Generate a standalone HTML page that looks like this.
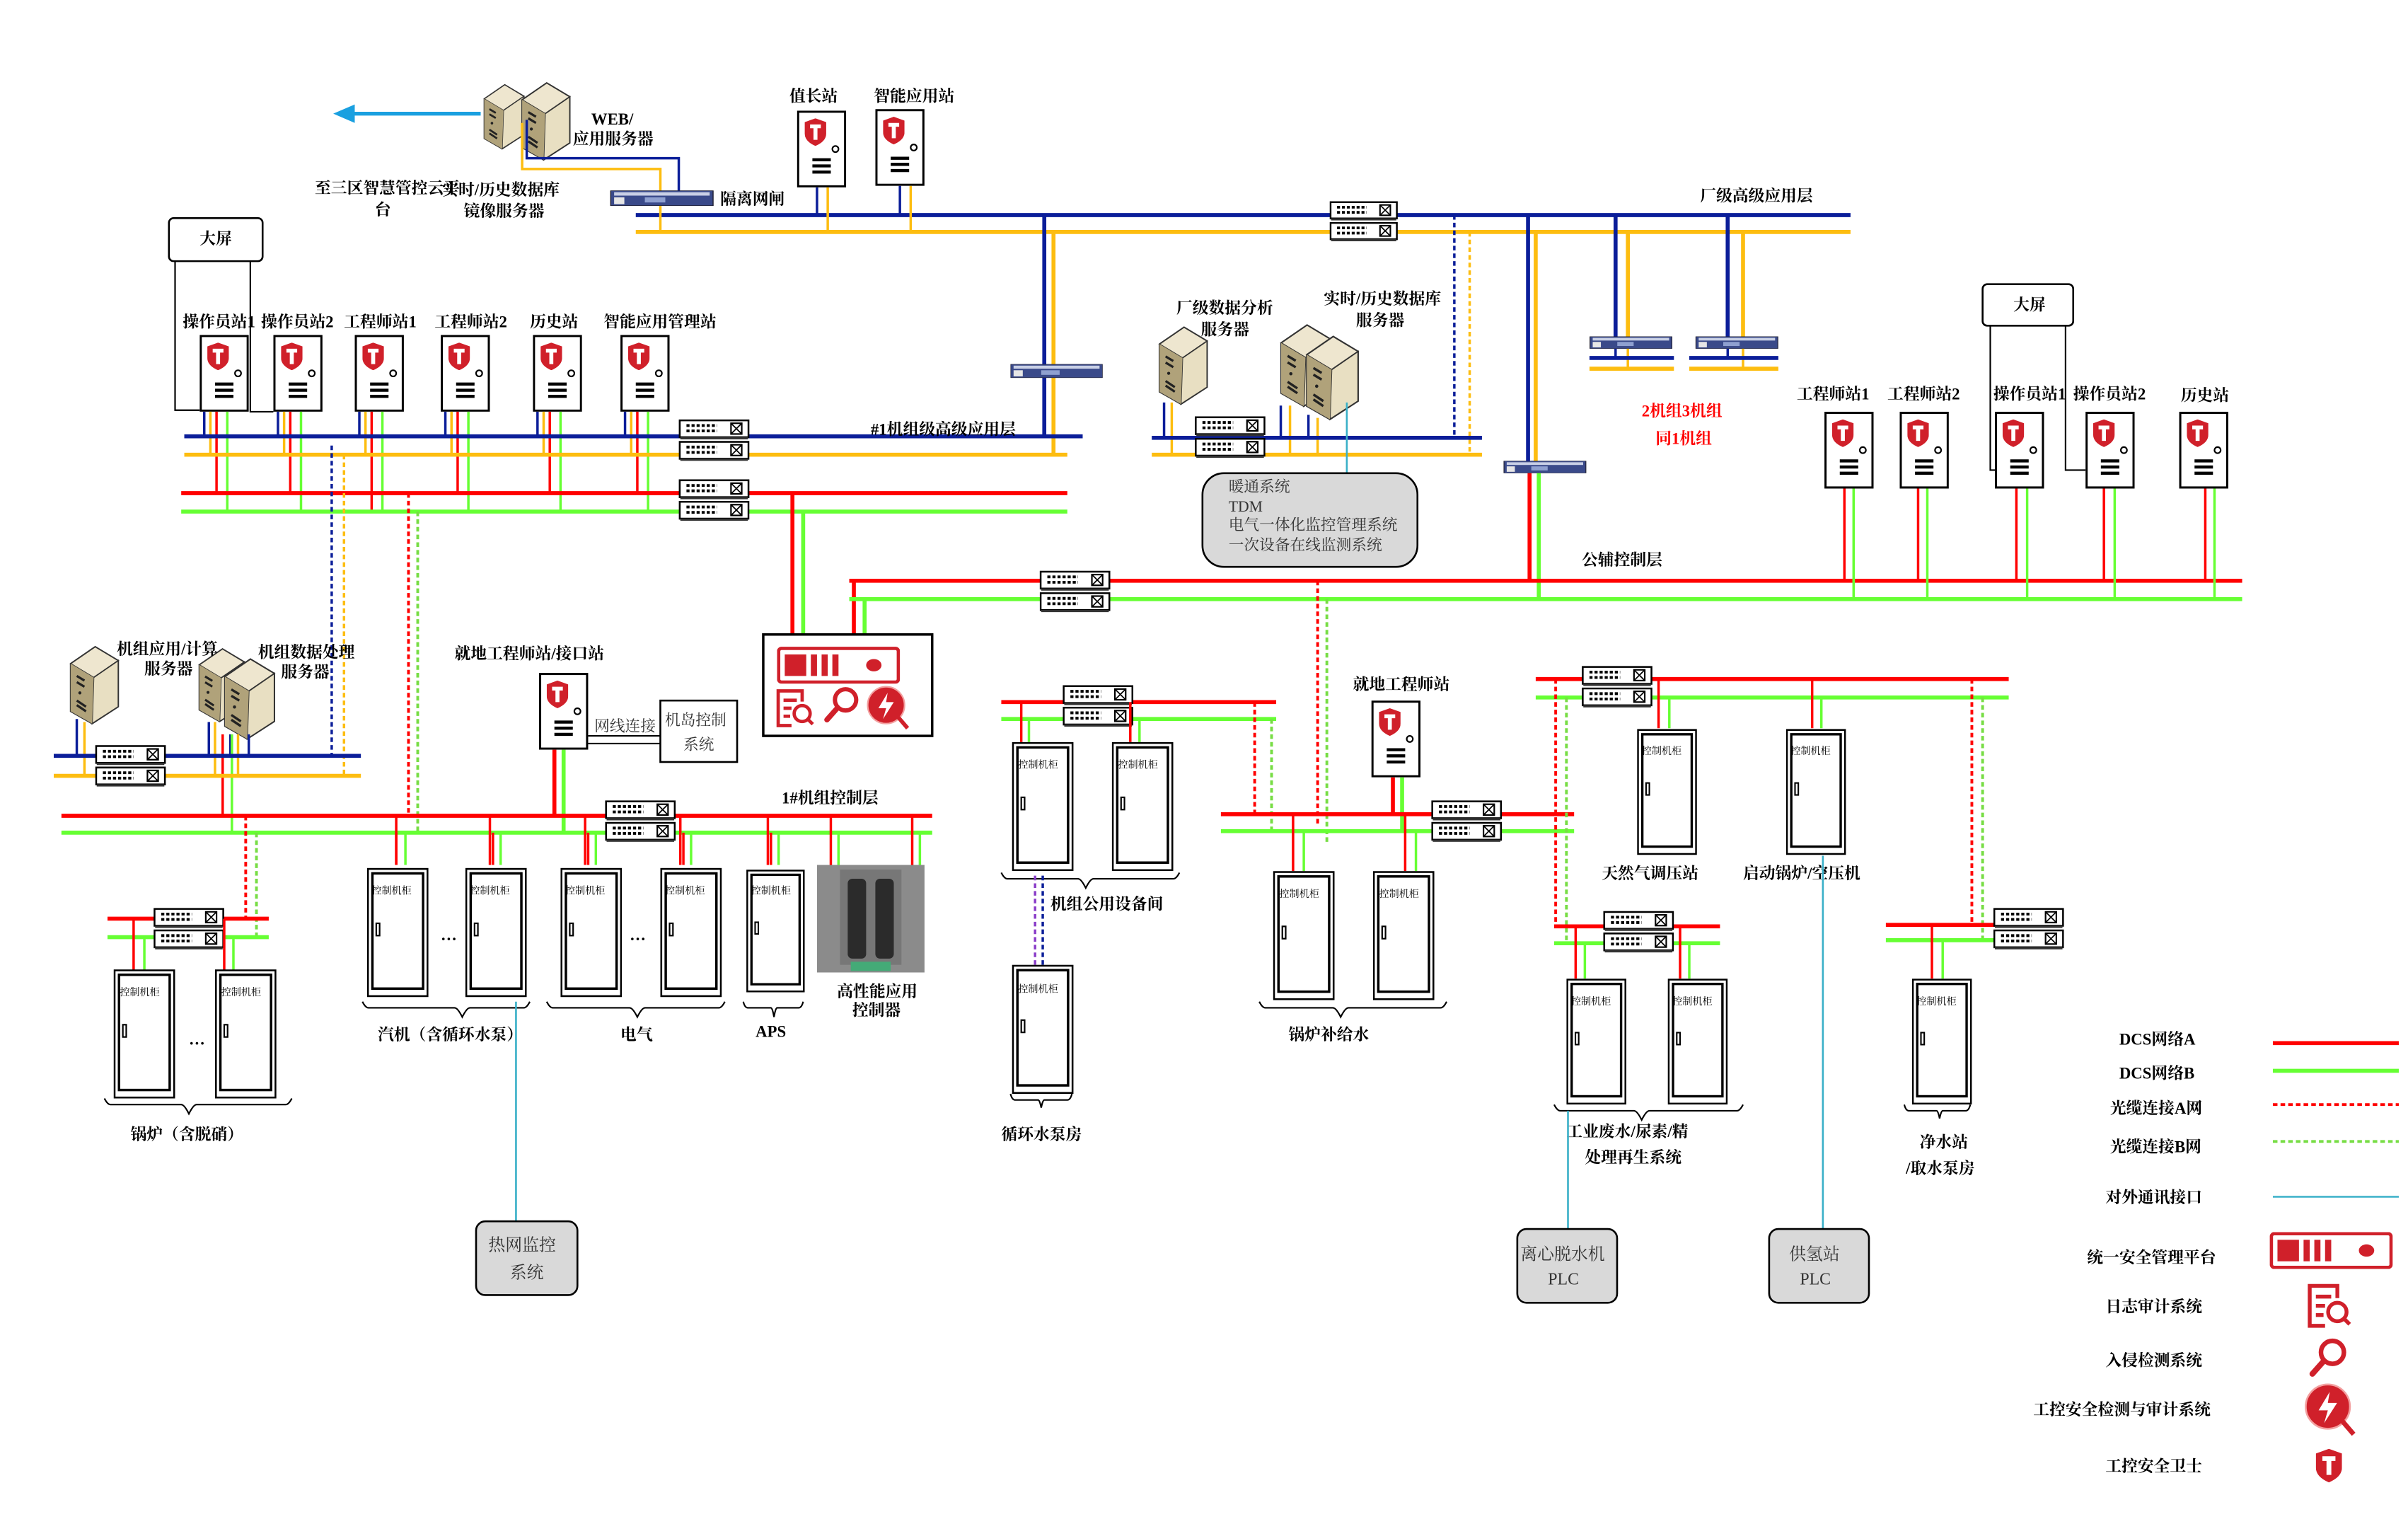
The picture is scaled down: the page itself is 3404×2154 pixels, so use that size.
<!DOCTYPE html>
<html><head><meta charset="utf-8"><style>
html,body{margin:0;padding:0;background:#fff;}
svg{display:block;}
text{font-family:"Liberation Serif","Noto Serif CJK SC",serif;fill:#000;}
.t{font-size:10.5px;font-weight:bold;}
.s{font-size:10px;}
.c{font-size:6.5px;}
.g{font-size:10px;fill:#333;}
.R{stroke:#f00;stroke-width:2.6;fill:none}
.G{stroke:#6f3;stroke-width:2.6;fill:none}
.B{stroke:#0b1e99;stroke-width:2.6;fill:none}
.Y{stroke:#fdbd10;stroke-width:2.6;fill:none}
.r{stroke:#f00;stroke-width:1.6;fill:none}
.gg{stroke:#6f3;stroke-width:1.6;fill:none}
.b{stroke:#0b1e99;stroke-width:1.6;fill:none}
.y{stroke:#fdbd10;stroke-width:1.6;fill:none}
.rd{stroke:#f00;stroke-width:1.8;stroke-dasharray:3 2;fill:none}
.gd{stroke:#7d4;stroke-width:1.8;stroke-dasharray:3 2;fill:none}
.bd{stroke:#0b1e99;stroke-width:1.6;stroke-dasharray:3 2;fill:none}
.yd{stroke:#fdbd10;stroke-width:1.6;stroke-dasharray:3 2;fill:none}
.cy{stroke:#3ab0c8;stroke-width:1.2;fill:none}
.k{stroke:#000;stroke-width:1;fill:none}
</style></head><body>
<svg width="3404" height="2154" viewBox="0 0 1568 992" preserveAspectRatio="none" xmlns="http://www.w3.org/2000/svg">
<defs>
<symbol id="shield" viewBox="0 0 14 18">
<path d="M7 0 L14 2.5 L14 10 Q14 15 7 18 Q0 15 0 10 L0 2.5 Z" fill="#d0202a"/>
<path d="M3.5 4 H10.5 V6.5 H8.3 V14 H5.7 V6.5 H3.5 Z" fill="#fff"/>
</symbol>
<symbol id="st" viewBox="0 0 32 50">
<rect x="0.7" y="0.7" width="30.6" height="48.6" fill="#fff" stroke="#000" stroke-width="1.4"/>
<use href="#shield" x="5" y="5" width="14" height="18"/>
<circle cx="25" cy="25" r="2" fill="none" stroke="#000" stroke-width="1"/>
<path d="M10 32H22M10 36H22M10 40H22" stroke="#000" stroke-width="2"/>
</symbol>
<symbol id="sw1" viewBox="0 0 46 13">
<rect x="0.6" y="0.6" width="44.8" height="11" fill="#fff" stroke="#000" stroke-width="1.2"/>
<rect x="1" y="11.5" width="44" height="1.5" fill="#333"/>
<path d="M5 4h20M5 7.5h20" stroke="#000" stroke-width="1.8" stroke-dasharray="2 1.3"/>
<rect x="34" y="2.5" width="7" height="7" fill="none" stroke="#000" stroke-width="1"/>
<path d="M34 2.5l7 7M41 2.5l-7 7" stroke="#000" stroke-width="0.8"/>
</symbol>
<symbol id="sw" viewBox="0 0 46 28">
<use href="#sw1" x="0" y="0" width="46" height="13"/>
<use href="#sw1" x="0" y="14" width="46" height="13"/>
</symbol>
<symbol id="srv" viewBox="0 0 36 52">
<path d="M4 12 L20 1 L35 10 L35 40 L18 51 L4 43 Z" fill="#cbbf9c" stroke="#333" stroke-width="1"/>
<path d="M4 12 L20 1 L35 10 L19 21 Z" fill="#eee6cf" stroke="#333" stroke-width="0.8"/>
<path d="M19 21 L35 10 L35 40 L18 51 Z" fill="#e8dfc2" stroke="#333" stroke-width="0.8"/>
<path d="M4 12 L19 21 L18 51 L4 43 Z" fill="#b0a27a"/>
<path d="M8 20l5 3M8 24l5 3M8 36l6 4M8 39l6 4" stroke="#222" stroke-width="1.5"/>
<circle cx="10" cy="31" r="1" fill="#222"/>
</symbol>
<symbol id="gw" viewBox="0 0 60 9">
<rect x="0" y="0" width="60" height="9" fill="#3a4a8a" stroke="#223" stroke-width="0.6"/>
<rect x="2" y="1" width="56" height="2" fill="#c9d0e6"/>
<rect x="2" y="4" width="6" height="4" fill="#e6e6e6"/>
<rect x="20" y="4" width="12" height="3" fill="#8fa0d0"/>
</symbol>
<symbol id="cab" viewBox="0 0 40 84">
<rect x="0.6" y="0.6" width="38.8" height="82.8" fill="#fff" stroke="#000" stroke-width="1.2"/>
<rect x="3.5" y="3.5" width="33" height="75" fill="none" stroke="#000" stroke-width="1.6"/>
<rect x="6" y="36" width="2.2" height="8" fill="none" stroke="#000" stroke-width="1"/>
</symbol>
<symbol id="plat" viewBox="0 0 80 24">
<rect x="1" y="1" width="78" height="22" rx="2" fill="#fff" stroke="#d0202a" stroke-width="2.2"/>
<rect x="5" y="5" width="14" height="14" fill="#d0202a"/><rect x="22" y="5" width="4" height="14" fill="#d0202a"/><rect x="29" y="5" width="4" height="14" fill="#d0202a"/><rect x="36" y="5" width="4" height="14" fill="#d0202a"/>
<ellipse cx="63" cy="12" rx="5" ry="4" fill="#d0202a"/>
</symbol>
<symbol id="log" viewBox="0 0 30 30">
<path d="M12 28H2V2H20V10" fill="none" stroke="#d0202a" stroke-width="2.5"/>
<path d="M6 9h10M6 15h6M6 21h5" stroke="#d0202a" stroke-width="2.5"/>
<circle cx="20" cy="19" r="6" fill="none" stroke="#d0202a" stroke-width="2.5"/><path d="M24 23l4 4" stroke="#d0202a" stroke-width="2.5"/>
</symbol>
<symbol id="mag" viewBox="0 0 30 30">
<circle cx="18" cy="11" r="8" fill="none" stroke="#d0202a" stroke-width="3.2"/><path d="M12 17L4 26" stroke="#d0202a" stroke-width="4" stroke-linecap="round"/>
</symbol>
<symbol id="ics" viewBox="0 0 30 30">
<circle cx="14" cy="13" r="12" fill="#d0202a" stroke="#f3a0a0" stroke-width="1"/>
<path d="M15 5L9 15H14L12 22L19 11H14Z" fill="#fff"/><path d="M22 21l6 7" stroke="#d0202a" stroke-width="2.6"/>
</symbol>
</defs>

<!-- ===== top / WEB ===== -->
<path d="M313 74H228" stroke="#1aa0e0" stroke-width="2.5"/><path d="M217 74L231 68V80Z" fill="#1aa0e0"/>
<use href="#srv" x="312" y="50" width="30" height="52"/><use href="#srv" x="336" y="53" width="36" height="52"/>
<path d="M340 80V110H430V131" class="y"/><path d="M343 78V103H442V126" class="b"/>
<text class="t" x="385" y="81">WEB/</text><text class="t" x="373" y="94">应用服务器</text>
<text class="t" x="205" y="126">至三区智慧管控云平</text><text class="t" x="244" y="140">台</text>
<text class="t" x="288" y="127">实时/历史数据库</text><text class="t" x="302" y="141">镜像服务器</text>
<use href="#gw" x="396" y="124" width="70" height="10"/><text class="t" x="469" y="133">隔离网闸</text>
<path d="M414 140H1205" class="B"/><path d="M414 151H1205" class="Y"/>
<path d="M430 134V151" class="y"/>
<text class="t" x="514" y="66">值长站</text><use href="#st" x="519" y="72" width="32" height="50"/>
<text class="t" x="569" y="66">智能应用站</text><use href="#st" x="570" y="71" width="32" height="50"/>
<path d="M532 122V140M586 121V140" class="b"/><path d="M539 122V151M593 121V151" class="y"/>
<use href="#sw" x="865" y="131" width="46" height="27"/>
<text class="t" x="1107" y="131">厂级高级应用层</text>
<path d="M680 140V283" class="B"/><path d="M686 151V296" class="Y"/>
<use href="#gw" x="658" y="237" width="60" height="9"/>
<path d="M947 140V285" class="bd"/><path d="M957 151V296" class="yd"/>
<path d="M995 140V300" class="B"/><path d="M1000 151V300" class="Y"/>
<use href="#gw" x="976" y="300" width="60" height="8"/>
<path d="M996 308V378" class="R"/><path d="M1002 308V390" class="G"/>
<path d="M1052 140V219M1125 140V219" class="B"/><path d="M1060 151V219M1135 151V219" class="Y"/>
<use href="#gw" x="1032" y="219" width="60" height="8"/><use href="#gw" x="1101" y="219" width="60" height="8"/>
<path d="M1052 227V233M1125 227V233" class="b"/><path d="M1060 227V240M1135 227V240" class="y"/>
<path d="M1035 233H1090M1100 233H1158" class="B"/><path d="M1035 240H1090M1100 240H1158" class="Y"/>
<text class="t" x="1069" y="271" style="fill:#f00">2机组3机组</text><text class="t" x="1078" y="289" style="fill:#f00">同1机组</text>

<!-- ===== left unit-level app layer ===== -->
<rect x="110" y="142" width="61" height="28" rx="3" fill="#fff" stroke="#000" stroke-width="1.2"/>
<text class="t" x="130" y="159">大屏</text>
<path d="M114 170V267H130M163 170V268H178" class="k"/>
<text class="t" x="119" y="213">操作员站1</text><text class="t" x="170" y="213">操作员站2</text><text class="t" x="224" y="213">工程师站1</text><text class="t" x="283" y="213">工程师站2</text><text class="t" x="345" y="213">历史站</text><text class="t" x="393" y="213">智能应用管理站</text>
<use href="#st" x="130" y="218" width="32" height="50"/><use href="#st" x="178" y="218" width="32" height="50"/><use href="#st" x="231" y="218" width="32" height="50"/><use href="#st" x="287" y="218" width="32" height="50"/><use href="#st" x="347" y="218" width="32" height="50"/><use href="#st" x="404" y="218" width="32" height="50"/>
<path d="M133 268V284M181 268V284M234 268V284M290 268V284M350 268V284M407 268V284" class="b"/>
<path d="M137 268V296M185 268V296M238 268V296M294 268V296M354 268V296M411 268V296" class="y"/>
<path d="M141 268V321M189 268V321M242 268V333M298 268V321M358 268V321M415 268V321" class="r"/>
<path d="M148 268V333M196 268V333M249 268V333M305 268V333M365 268V333M422 268V333" class="gg"/>
<path d="M120 284H705" class="B"/><path d="M120 296H695" class="Y"/><path d="M118 321H695" class="R"/><path d="M118 333H695" class="G"/>
<use href="#sw" x="442" y="273" width="46" height="28"/><use href="#sw" x="442" y="312" width="46" height="28"/>
<text class="t" x="567" y="283">#1机组级高级应用层</text>
<path d="M216 290V492" class="bd"/><path d="M224 296V505" class="yd"/>
<path d="M266 321V531" class="rd"/><path d="M272 333V542" class="gd"/>
<path d="M516 321V413" class="R"/><path d="M523 333V413" class="G"/>
<path d="M556 378V413" class="R"/><path d="M563 390V413" class="G"/>
<rect x="497" y="413" width="110" height="66" fill="#fff" stroke="#000" stroke-width="1.6"/>
<use href="#plat" x="506" y="421" width="80" height="24"/><use href="#log" x="505" y="448" width="26" height="26"/><use href="#mag" x="535" y="446" width="26" height="26"/><use href="#ics" x="563" y="446" width="30" height="30"/>

<!-- machine servers -->
<use href="#srv" x="42" y="420" width="36" height="52"/><use href="#srv" x="126" y="420" width="34" height="52"/><use href="#srv" x="142" y="428" width="38" height="54"/>
<text class="t" x="76" y="426">机组应用/计算</text><text class="t" x="94" y="439">服务器</text>
<text class="t" x="168" y="428">机组数据处理</text><text class="t" x="183" y="441">服务器</text>
<path d="M50 468V492M136 470V492M150 478V492M162 478V492" class="b"/><path d="M55 470V505M140 470V505M155 478V505" class="y"/>
<path d="M145 478V531" class="r"/><path d="M151 478V542" class="gg"/>
<path d="M35 492H235" class="B"/><path d="M35 505H235" class="Y"/>
<use href="#sw" x="62" y="485" width="46" height="28"/>

<!-- local engineer interface -->
<text class="t" x="296" y="429">就地工程师站/接口站</text>
<use href="#st" x="351" y="438" width="32" height="50"/>
<path d="M383 479H430M383 484H430" class="k"/><text class="g" x="387" y="476">网线连接</text>
<rect x="430" y="456" width="50" height="40" fill="#fff" stroke="#000" stroke-width="1.2"/>
<text class="g" x="433" y="472">机岛控制</text><text class="g" x="445" y="488">系统</text>
<path d="M361 488V531" class="R"/><path d="M367 488V542" class="G"/>

<!-- 1# control layer -->
<path d="M40 531H607" class="R"/><path d="M40 542H607" class="G"/>
<use href="#sw" x="394" y="519" width="46" height="32"/>
<text class="t" x="509" y="523">1#机组控制层</text>
<path d="M160 531V598" class="rd"/><path d="M167 542V610" class="gd"/>
<path d="M70 598H175" class="R"/><path d="M70 610H175" class="G"/>
<use href="#sw" x="100" y="589" width="46" height="32"/>
<path d="M87 598V632M146 598V632" class="r"/><path d="M94 610V632M152 610V632" class="gg"/>
<use href="#cab" x="74" y="631" width="40" height="84"/><use href="#cab" x="140" y="631" width="40" height="84"/>
<text class="c" x="78" y="648">控制机柜</text><text class="c" x="144" y="648">控制机柜</text><text class="t" x="123" y="680">…</text>
<path d="M68 715q2 4 4 4H118q2 0 5 6q3-6 5-6H186q2 0 4-4" class="k"/>
<text class="t" x="85" y="742">锅炉（含脱硝）</text>

<path d="M258 542V563M321 542V563M383 542V563M445 542V563M502 542V563" class="r"/>
<path d="M258 531V563M319 531V563M381 531V563M443 531V563M500 531V563M541 531V563M594 531V563" class="r"/>
<path d="M264 542V563M326 542V563M388 542V563M450 542V563M507 542V563M546 542V563M599 542V563" class="gg"/>
<use href="#cab" x="239" y="563" width="40" height="88"/><use href="#cab" x="303" y="563" width="40" height="88"/><use href="#cab" x="365" y="563" width="40" height="88"/><use href="#cab" x="430" y="563" width="40" height="88"/><use href="#cab" x="486" y="563" width="38" height="86"/>
<text class="c" x="242" y="582">控制机柜</text><text class="c" x="306" y="582">控制机柜</text><text class="c" x="368" y="582">控制机柜</text><text class="c" x="433" y="582">控制机柜</text><text class="c" x="489" y="582">控制机柜</text>
<text class="t" x="287" y="612">…</text><text class="t" x="410" y="612">…</text>
<rect x="532" y="563" width="70" height="70" fill="#8b8b8b"/><rect x="547" y="566" width="40" height="62" fill="#777"/>
<rect x="552" y="572" width="12" height="52" rx="3" fill="#2b2b2b"/><rect x="570" y="572" width="12" height="52" rx="3" fill="#2b2b2b"/>
<rect x="554" y="626" width="26" height="6" fill="#4a7"/>
<path d="M236 652q2 4 4 4H296q2 0 5 6q3-6 5-6H341q2 0 4-4M356 652q2 4 4 4H410q2 0 5 6q3-6 5-6H468q2 0 4-4M484 652q1 4 3 4H502q1 0 2 6q1-6 2-6H520q2 0 3-4" class="k"/>
<text class="t" x="246" y="677">汽机（含循环水泵）</text><text class="t" x="404" y="677">电气</text><text class="t" x="492" y="675">APS</text>
<text class="t" x="545" y="649">高性能应用</text><text class="t" x="555" y="661">控制器</text>
<path d="M336 652V795" class="cy"/>
<rect x="310" y="795" width="66" height="48" rx="6" fill="#d9d9d9" stroke="#000" stroke-width="1.2"/>
<text class="g" x="318" y="814" style="font-size:11px">热网监控</text><text class="g" x="332" y="832" style="font-size:11px">系统</text>

<!-- 机组公用设备间 -->
<path d="M652 457H831" class="R"/><path d="M652 468H831" class="G"/>
<use href="#sw" x="692" y="446" width="46" height="28"/>
<path d="M817 457V531" class="rd"/><path d="M828 468V542" class="gd"/>
<path d="M665 457V483M736 457V483" class="r"/><path d="M670 468V483M742 468V483" class="gg"/>
<use href="#cab" x="659" y="483" width="40" height="84"/><use href="#cab" x="724" y="483" width="40" height="84"/>
<text class="c" x="663" y="500">控制机柜</text><text class="c" x="728" y="500">控制机柜</text>
<path d="M652 568q2 4 4 4H702q2 0 5 6q3-6 5-6H764q2 0 4-4" class="k"/>
<text class="t" x="684" y="592">机组公用设备间</text>
<path d="M674 570V628" stroke="#8a3dc8" stroke-width="1.6" stroke-dasharray="3 2"/><path d="M679 570V628" class="bd"/>
<use href="#cab" x="659" y="628" width="40" height="84"/><text class="c" x="663" y="646">控制机柜</text>
<path d="M658 712q1 4 3 4H676q1 0 2 5q1-5 2-5H695q2 0 3-4" class="k"/>
<text class="t" x="652" y="742">循环水泵房</text>

<!-- 厂级 servers -->
<text class="t" x="766" y="204">厂级数据分析</text><text class="t" x="782" y="218">服务器</text>
<text class="t" x="862" y="198">实时/历史数据库</text><text class="t" x="883" y="212">服务器</text>
<use href="#srv" x="750" y="212" width="38" height="52"/><use href="#srv" x="830" y="210" width="38" height="56"/><use href="#srv" x="846" y="218" width="40" height="56"/>
<path d="M758 262V285M834 264V285M852 270V285" class="b"/><path d="M763 262V296M840 264V296M858 272V296" class="y"/>
<path d="M750 285H965" class="B"/><path d="M750 296H965" class="Y"/>
<use href="#sw" x="778" y="271" width="46" height="28"/>
<path d="M877 262V308" class="cy"/>
<rect x="783" y="308" width="140" height="61" rx="14" fill="#d9d9d9" stroke="#000" stroke-width="1.2"/>
<text class="g" x="800" y="320">暖通系统</text><text class="g" x="800" y="333">TDM</text><text class="g" x="800" y="345">电气一体化监控管理系统</text><text class="g" x="800" y="358">一次设备在线监测系统</text>

<!-- 公辅控制层 -->
<path d="M553 378H1460" class="R"/><path d="M553 390H1460" class="G"/>
<use href="#sw" x="677" y="371" width="46" height="29"/>
<text class="t" x="1030" y="368">公辅控制层</text>
<path d="M858 378V537" class="rd"/><path d="M864 390V548" class="gd"/>
<rect x="1291" y="185" width="59" height="27" rx="3" fill="#fff" stroke="#000" stroke-width="1.2"/>
<text class="t" x="1311" y="202">大屏</text>
<path d="M1296 212V306H1299M1345 212V306H1358" class="k"/>
<text class="t" x="1170" y="260">工程师站1</text><text class="t" x="1229" y="260">工程师站2</text><text class="t" x="1298" y="260">操作员站1</text><text class="t" x="1350" y="260">操作员站2</text><text class="t" x="1420" y="261">历史站</text>
<use href="#st" x="1188" y="268" width="32" height="50"/><use href="#st" x="1237" y="268" width="32" height="50"/><use href="#st" x="1299" y="268" width="32" height="50"/><use href="#st" x="1358" y="268" width="32" height="50"/><use href="#st" x="1419" y="268" width="32" height="50"/>
<path d="M1201 318V378M1249 318V378M1313 318V378M1370 318V378M1436 318V378" class="r"/>
<path d="M1207 318V390M1255 318V390M1320 318V390M1377 318V390M1442 318V390" class="gg"/>

<!-- 锅炉补给水 -->
<text class="t" x="881" y="449">就地工程师站</text>
<use href="#st" x="893" y="456" width="32" height="50"/>
<path d="M907 506V531" class="R"/><path d="M913 506V542" class="G"/>
<path d="M795 530H1025" class="R"/><path d="M795 541H1025" class="G"/>
<use href="#sw" x="932" y="521" width="46" height="28"/>
<path d="M842 530V567M915 530V567" class="r"/><path d="M849 541V567M922 541V567" class="gg"/>
<use href="#cab" x="829" y="567" width="40" height="84"/><use href="#cab" x="894" y="567" width="40" height="84"/>
<text class="c" x="833" y="584">控制机柜</text><text class="c" x="898" y="584">控制机柜</text>
<path d="M820 652q2 4 4 4H868q2 0 5 6q3-6 5-6H938q2 0 4-4" class="k"/>
<text class="t" x="839" y="677">锅炉补给水</text>

<!-- right area -->
<path d="M1000 442H1308" class="R"/><path d="M1000 454H1308" class="G"/>
<use href="#sw" x="1030" y="433" width="46" height="29"/>
<path d="M1013 442V603" class="rd"/><path d="M1020 454V614" class="gd"/>
<path d="M1284 442V602" class="rd"/><path d="M1291 454V612" class="gd"/>
<path d="M1080 442V474M1180 442V474" class="r"/><path d="M1087 454V474M1186 454V474" class="gg"/>
<use href="#cab" x="1066" y="474" width="39" height="83"/><use href="#cab" x="1163" y="474" width="39" height="83"/>
<text class="c" x="1069" y="491">控制机柜</text><text class="c" x="1166" y="491">控制机柜</text>
<text class="t" x="1043" y="572">天然气调压站</text><text class="t" x="1135" y="572">启动锅炉/空压机</text>
<path d="M1187 557V800" class="cy"/>
<rect x="1152" y="800" width="65" height="48" rx="6" fill="#d9d9d9" stroke="#000" stroke-width="1.2"/>
<text class="g" x="1165" y="820" style="font-size:11px">供氢站</text><text class="g" x="1172" y="836" style="font-size:11px">PLC</text>
<path d="M1012 603H1120" class="R"/><path d="M1012 614H1120" class="G"/>
<use href="#sw" x="1044" y="593" width="46" height="28"/>
<path d="M1026 603V637M1094 603V637" class="r"/><path d="M1032 614V637M1100 614V637" class="gg"/>
<use href="#cab" x="1020" y="637" width="39" height="82"/><use href="#cab" x="1086" y="637" width="39" height="82"/>
<text class="c" x="1023" y="654">控制机柜</text><text class="c" x="1089" y="654">控制机柜</text>
<path d="M1012 719q2 4 4 4H1064q2 0 5 6q3-6 5-6H1131q2 0 4-4" class="k"/>
<text class="t" x="1020" y="740">工业废水/尿素/精</text><text class="t" x="1032" y="757">处理再生系统</text>
<path d="M1021 723V800" class="cy"/>
<rect x="988" y="800" width="65" height="48" rx="6" fill="#d9d9d9" stroke="#000" stroke-width="1.2"/>
<text class="g" x="990" y="820" style="font-size:11px">离心脱水机</text><text class="g" x="1008" y="836" style="font-size:11px">PLC</text>
<path d="M1228 602H1300" class="R"/><path d="M1228 612H1300" class="G"/>
<use href="#sw" x="1298" y="591" width="46" height="28"/>
<path d="M1258 602V637" class="r"/><path d="M1265 612V637" class="gg"/>
<use href="#cab" x="1245" y="637" width="39" height="82"/><text class="c" x="1248" y="654">控制机柜</text>
<path d="M1240 719q1 4 3 4H1261q1 0 2 5q1-5 2-5H1280q2 0 3-4" class="k"/>
<text class="t" x="1250" y="747">净水站</text><text class="t" x="1241" y="764">/取水泵房</text>

<!-- legend -->
<text class="t" x="1380" y="680">DCS网络A</text><path d="M1480 679H1562" class="R"/>
<text class="t" x="1380" y="702">DCS网络B</text><path d="M1480 697H1562" class="G"/>
<text class="t" x="1374" y="725">光缆连接A网</text><path d="M1480 719H1562" class="rd"/>
<text class="t" x="1374" y="750">光缆连接B网</text><path d="M1480 743H1562" class="gd"/>
<text class="t" x="1371" y="783">对外通讯接口</text><path d="M1480 779H1562" class="cy"/>
<text class="t" x="1359" y="822">统一安全管理平台</text><use href="#plat" x="1478" y="802" width="80" height="24"/>
<text class="t" x="1371" y="854">日志审计系统</text><use href="#log" x="1502" y="835" width="30" height="30"/>
<text class="t" x="1371" y="889">入侵检测系统</text><use href="#mag" x="1502" y="870" width="28" height="28"/>
<text class="t" x="1324" y="921">工控安全检测与审计系统</text><use href="#ics" x="1499" y="900" width="36" height="36"/>
<text class="t" x="1371" y="958">工控安全卫士</text><use href="#shield" x="1508" y="943" width="17" height="22"/>
</svg>
</body></html>
